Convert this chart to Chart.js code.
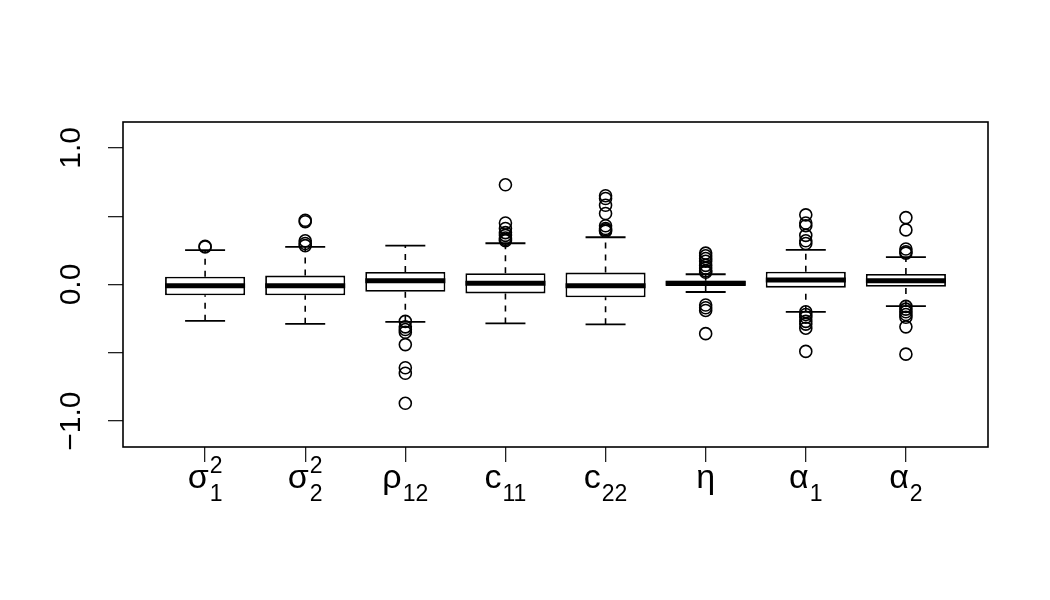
<!DOCTYPE html>
<html>
<head>
<meta charset="utf-8">
<script src="https://cdn.jsdelivr.net/npm/chart.js@4.4.1/dist/chart.umd.min.js"></script>
<style>
  html, body { margin: 0; background: #fff; }
  #wrap { width: 1050px; height: 600px; position: relative; }
</style>
</head>
<body>
<div id="wrap"><canvas id="chart"></canvas></div>
<script>
// parameter names, drawn as base symbol + subscript / superscript
const labelBase = ["σ", "σ", "ρ", "c", "c", "η", "α", "α"];
const labelSub = ["1", "2", "12", "11", "22", "", "1", "2"];
const labelSup = ["2", "2", "", "", "", "", "", ""];

// five-number summaries
const whiskerLow = [-0.266, -0.288, -0.273, -0.285, -0.292, -0.055, -0.200, -0.158];
const q1 = [-0.079, -0.079, -0.053, -0.065, -0.094, -0.011, -0.023, -0.016];
const median = [-0.009, -0.009, 0.028, 0.009, -0.009, 0.009, 0.033, 0.028];
const q3 = [0.057, 0.065, 0.092, 0.082, 0.087, 0.028, 0.094, 0.077];
const whiskerHigh = [0.251, 0.275, 0.285, 0.302, 0.346, 0.075, 0.253, 0.200];

const outliers = [
  [0.28, 0.275],
  [0.47, 0.46, 0.32, 0.30, 0.285],
  [-0.27, -0.31, -0.33, -0.35, -0.44, -0.61, -0.65, -0.87],
  [0.73, 0.45, 0.41, 0.38, 0.36, 0.34, 0.33, 0.32],
  [0.65, 0.63, 0.58, 0.52, 0.43, 0.41, 0.40, 0.39],
  [0.23, 0.21, 0.19, 0.17, 0.14, 0.12, 0.10, 0.09, -0.15, -0.17, -0.19, -0.36],
  [0.51, 0.45, 0.43, 0.36, 0.32, 0.30, -0.20, -0.22, -0.24, -0.27, -0.29, -0.32, -0.49],
  [0.49, 0.40, 0.26, 0.24, 0.23, -0.16, -0.18, -0.20, -0.22, -0.24, -0.31, -0.51],
];

const yTickValues = [-1, -0.5, 0, 0.5, 1];
const yTickLabels = ["−1.0", "", "0.0", "", "1.0"];

const FONT = '"Liberation Sans", Arial, Helvetica, sans-serif';
const pos = labelBase.map((_, i) => i + 1);

// dashed whisker segments, broken with nulls
const whiskerPts = [];
pos.forEach((x, i) => {
  whiskerPts.push({ x, y: whiskerLow[i] }, { x, y: q1[i] }, { x, y: null });
  whiskerPts.push({ x, y: q3[i] }, { x, y: whiskerHigh[i] }, { x, y: null });
});
const capPts = [];
pos.forEach((x, i) => capPts.push({ x, y: whiskerLow[i] }, { x, y: whiskerHigh[i] }));
const outPts = [];
pos.forEach((x, i) => outliers[i].forEach((y) => outPts.push({ x, y })));

const frame = {
  id: "frame",
  afterDraw(chart) {
    const { ctx, chartArea: a, scales } = chart;
    ctx.save();
    ctx.strokeStyle = "#000";
    ctx.lineWidth = 1.6;
    ctx.strokeRect(a.left, a.top, a.right - a.left, a.bottom - a.top);

    ctx.fillStyle = "#000";
    ctx.textBaseline = "alphabetic";

    // y labels, rotated like R's las = 0
    ctx.font = "30px " + FONT;
    ctx.textAlign = "center";
    yTickValues.forEach((v, i) => {
      if (!yTickLabels[i]) return;
      const y = scales.y.getPixelForValue(v);
      ctx.save();
      ctx.translate(a.left - 43, y);
      ctx.rotate(-Math.PI / 2);
      ctx.fillText(yTickLabels[i], 0, 0);
      ctx.restore();
    });

    // x labels with stacked sub/superscripts
    ctx.textAlign = "left";
    pos.forEach((p, i) => {
      const x = scales.x.getPixelForValue(p);
      ctx.font = "34px " + FONT;
      const wb = ctx.measureText(labelBase[i]).width;
      ctx.font = "23px " + FONT;
      const ws = Math.max(ctx.measureText(labelSub[i]).width, ctx.measureText(labelSup[i]).width);
      const gap = ws ? 1 : 0;
      const x0 = x - (wb + gap + ws) / 2;
      ctx.font = "34px " + FONT;
      ctx.fillText(labelBase[i], x0, a.bottom + 41);
      ctx.font = "23px " + FONT;
      if (labelSub[i]) ctx.fillText(labelSub[i], x0 + wb + gap, a.bottom + 54);
      if (labelSup[i]) ctx.fillText(labelSup[i], x0 + wb + gap, a.bottom + 26);
    });
    ctx.restore();
  },
};

new Chart(document.getElementById("chart"), {
  type: "bar",
  data: {
    datasets: [
      {
        type: "scatter",
        data: outPts,
        order: 0,
        pointStyle: "circle",
        pointRadius: 6,
        pointBorderWidth: 1.6,
        pointBorderColor: "#000",
        pointBackgroundColor: "rgba(0,0,0,0)",
      },
      {
        type: "scatter",
        data: pos.map((x, i) => ({ x, y: median[i] })),
        order: 1,
        pointStyle: "line",
        pointRadius: 40,
        pointBorderWidth: 5,
        pointBorderColor: "#000",
      },
      {
        type: "scatter",
        data: capPts,
        order: 2,
        pointStyle: "line",
        pointRadius: 20,
        pointBorderWidth: 1.8,
        pointBorderColor: "#000",
      },
      {
        type: "bar",
        data: pos.map((x, i) => ({ x, y: [q1[i], q3[i]] })),
        order: 3,
        backgroundColor: "#fff",
        borderColor: "#000",
        borderWidth: 1.8,
        borderSkipped: false,
        barPercentage: 0.8,
        categoryPercentage: 1,
      },
      {
        type: "line",
        data: whiskerPts,
        order: 4,
        borderColor: "#000",
        borderWidth: 1.6,
        borderDash: [6, 6],
        pointRadius: 0,
        spanGaps: false,
      },
    ],
  },
  options: {
    responsive: true,
    maintainAspectRatio: false,
    animation: false,
    layout: { padding: { left: 108, right: 62, top: 122, bottom: 138 } },
    plugins: { legend: { display: false }, tooltip: { enabled: false } },
    scales: {
      x: {
        type: "linear",
        offset: false,
        min: 0.18,
        max: 8.82,
        afterBuildTicks: (s) => { s.ticks = pos.map((value) => ({ value })); },
        ticks: { display: false },
        border: { display: false },
        grid: { offset: false, drawOnChartArea: false, drawTicks: true, tickLength: 15, color: "#222", lineWidth: 1.3 },
      },
      y: {
        min: -1.19,
        max: 1.19,
        afterBuildTicks: (s) => { s.ticks = yTickValues.map((value) => ({ value })); },
        ticks: { display: false },
        border: { display: false },
        grid: { drawOnChartArea: false, drawTicks: true, tickLength: 15, color: "#222", lineWidth: 1.3 },
      },
    },
  },
  plugins: [frame],
});
</script>
</body>
</html>
